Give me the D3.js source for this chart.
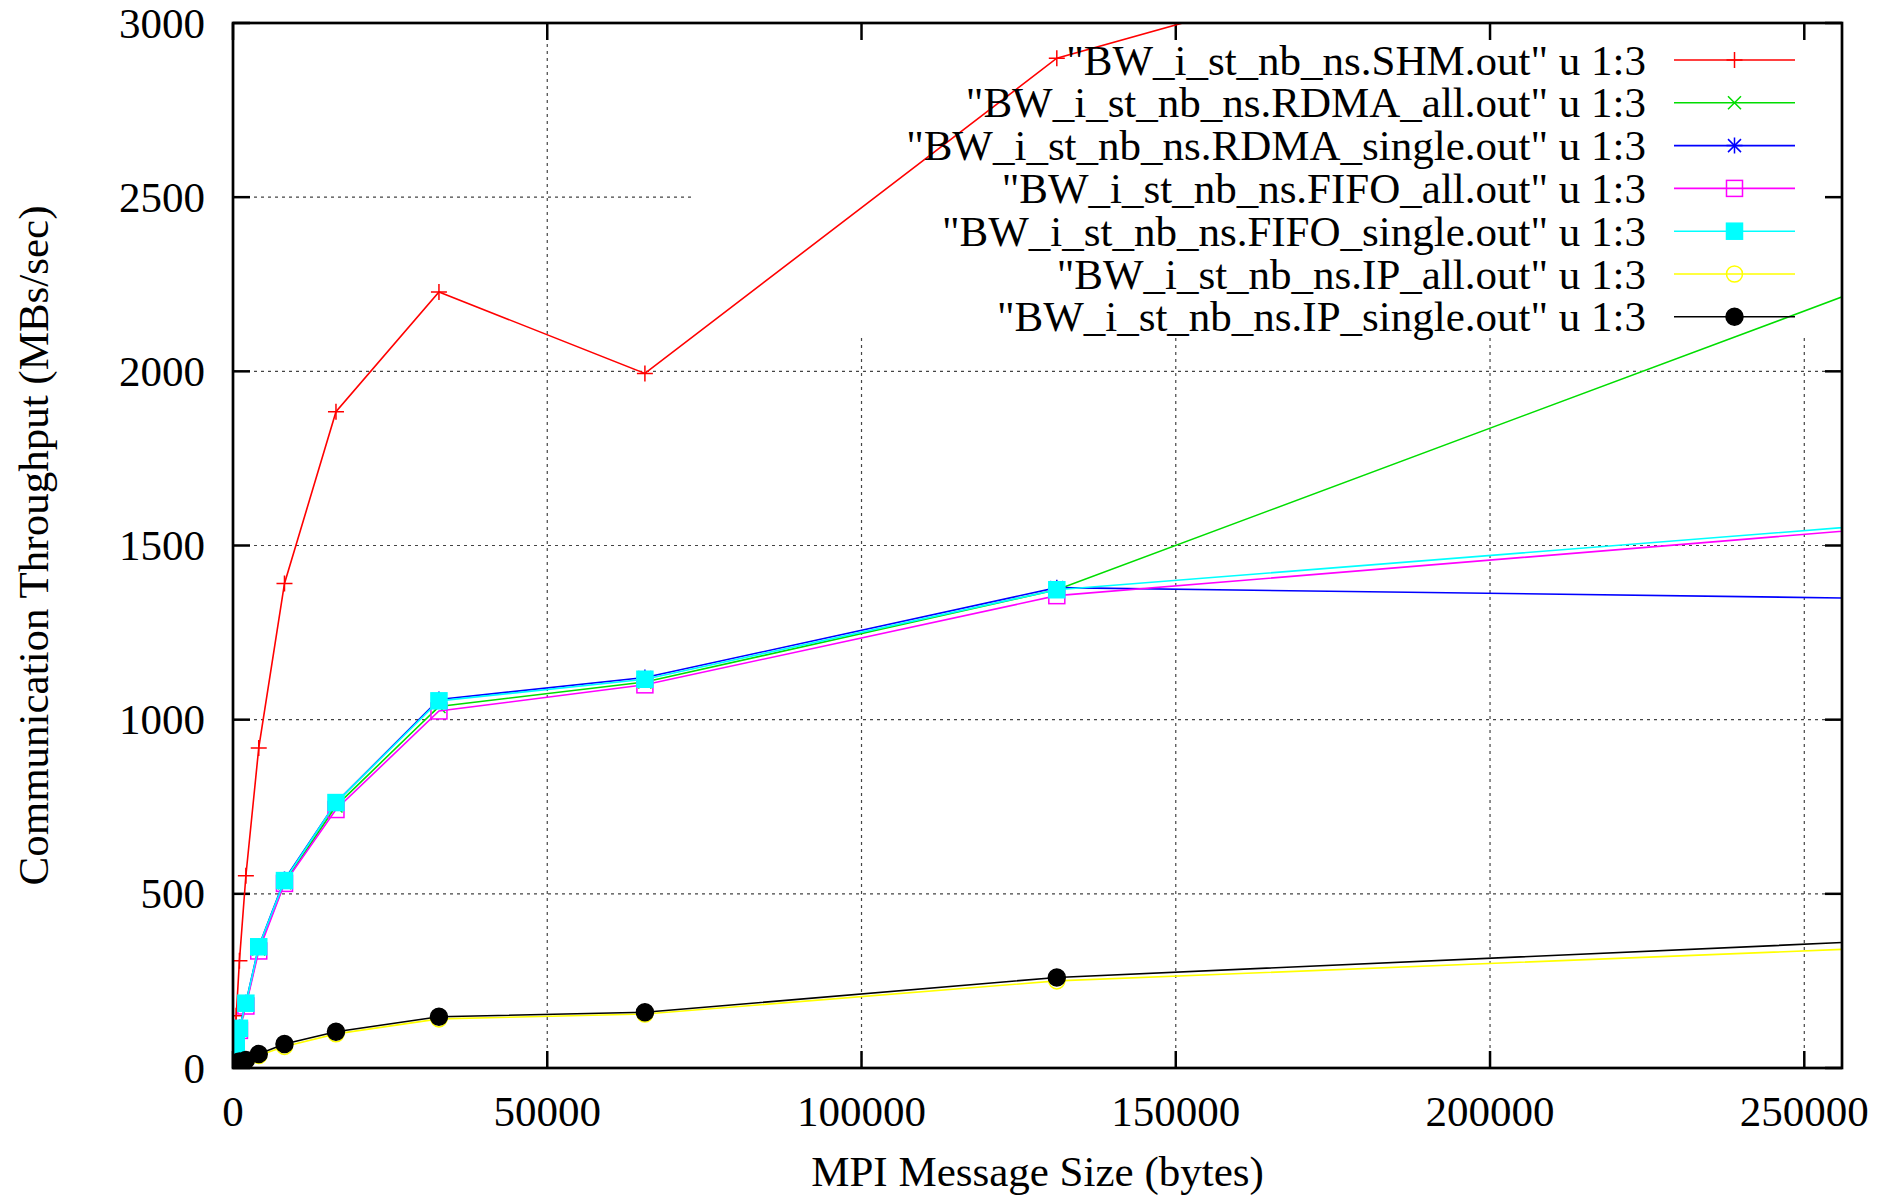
<!DOCTYPE html>
<html>
<head>
<meta charset="utf-8">
<script src="https://cdn.jsdelivr.net/npm/d3@7"></script>
<style>
  html, body { margin: 0; padding: 0; background: #fff; overflow: hidden; }
  svg { display: block; }
  text { font-family: "Liberation Serif", "Times New Roman", serif; fill: #000; }
</style>
</head>
<body>
<script>
// message sizes (bytes) and throughput (MBs/sec)
var sizes = [1, 2, 4, 8, 16, 32, 64, 128, 256, 512, 1024, 2048, 4096, 8192, 16384, 32768, 65536, 131072, 262144];

var shm         = [0.5, 1, 2, 4, 8, 16, 30, 55, 95, 150, 308, 552, 919, 1391, 1884, 2228, 1994, 2899, 3560];
var rdmaAll     = [0.2, 0.5, 1, 2, 4, 8, 15, 28, 50, 62, 110, 182, 342, 532, 752, 1038, 1108, 1373, 2255];
var rdmaSingle  = [0.2, 0.5, 1, 2, 4, 8, 16, 30, 55, 65, 116, 187, 349, 541, 762, 1058, 1121, 1379, 1348];
var fifoAll     = [0.2, 0.5, 1, 2, 4, 8, 15, 28, 50, 60, 108, 178, 336, 530, 742, 1025, 1100, 1356, 1550];
var fifoSingle  = [0.2, 0.5, 1, 2, 4, 8, 16, 30, 54, 64, 114, 186, 348, 538, 762, 1054, 1116, 1373, 1560];
var ipAll       = [0.1, 0.2, 0.4, 0.8, 1.5, 3, 5, 8, 11, 14, 18, 21, 36, 62, 98, 141, 155, 250, 345];
var ipSingle    = [0.1, 0.2, 0.4, 0.8, 1.5, 3, 5, 8, 12, 15, 19, 23, 40, 69, 104, 147, 160, 260, 365];

var seriesNames = [
  '"BW_i_st_nb_ns.SHM.out" u 1:3',
  '"BW_i_st_nb_ns.RDMA_all.out" u 1:3',
  '"BW_i_st_nb_ns.RDMA_single.out" u 1:3',
  '"BW_i_st_nb_ns.FIFO_all.out" u 1:3',
  '"BW_i_st_nb_ns.FIFO_single.out" u 1:3',
  '"BW_i_st_nb_ns.IP_all.out" u 1:3',
  '"BW_i_st_nb_ns.IP_single.out" u 1:3'
];
var seriesValues = [shm, rdmaAll, rdmaSingle, fifoAll, fifoSingle, ipAll, ipSingle];
var seriesColors = ["#ff0000", "#00dd00", "#0000ff", "#ff00ff", "#00ffff", "#ffff00", "#000000"];
var seriesMarks  = ["plus", "cross", "star", "square", "fsquare", "circle", "fcircle"];

var xTicks = [0, 50000, 100000, 150000, 200000, 250000];
var yTicks = [0, 500, 1000, 1500, 2000, 2500, 3000];

var W = 1892, H = 1199;
var margin = {top: 23, right: 50, bottom: 131, left: 233};
var x0 = margin.left, x1 = W - margin.right,
    y0 = H - margin.bottom, y1 = margin.top;

var svg = d3.select("body").append("svg")
    .attr("width", W)
    .attr("height", H);

var x = d3.scaleLinear().domain([0, 256000]).range([x0, x1]);
var y = d3.scaleLinear().domain([0, 3000]).range([y0, y1]);

// key box, grid lines are not drawn through it (gnuplot habit)
var key = {left: 692, right: x1, top: y1, bottom: 338};

svg.append("defs").append("clipPath").attr("id", "plotclip")
  .append("rect").attr("x", x0).attr("y", y1).attr("width", x1 - x0).attr("height", y0 - y1);

// grid
var grid = svg.append("g")
    .attr("stroke", "#444")
    .attr("stroke-width", 1.2)
    .attr("stroke-dasharray", "3,4");

yTicks.slice(1, -1).forEach(function(v) {
  var py = y(v);
  if (py < key.bottom) {
    grid.append("line").attr("x1", x0).attr("x2", key.left).attr("y1", py).attr("y2", py);
  } else {
    grid.append("line").attr("x1", x0).attr("x2", x1).attr("y1", py).attr("y2", py);
  }
});
xTicks.slice(1).forEach(function(v) {
  var px = x(v);
  var top = (px > key.left) ? key.bottom : y1;
  grid.append("line").attr("x1", px).attr("x2", px).attr("y1", top).attr("y2", y0);
});

// ticks (inward, mirrored)
var tl = 17;
var ticks = svg.append("g").attr("stroke", "#000").attr("stroke-width", 2.5);
yTicks.forEach(function(v) {
  ticks.append("line").attr("x1", x0).attr("x2", x0 + tl).attr("y1", y(v)).attr("y2", y(v));
  ticks.append("line").attr("x1", x1).attr("x2", x1 - tl).attr("y1", y(v)).attr("y2", y(v));
});
xTicks.forEach(function(v) {
  ticks.append("line").attr("x1", x(v)).attr("x2", x(v)).attr("y1", y0).attr("y2", y0 - tl);
  ticks.append("line").attr("x1", x(v)).attr("x2", x(v)).attr("y1", y1).attr("y2", y1 + tl);
});

// tick labels
svg.append("g").selectAll("text").data(yTicks).enter().append("text")
    .attr("x", x0 - 28)
    .attr("y", function(d) { return y(d); })
    .attr("dy", "0.34em")
    .attr("text-anchor", "end")
    .attr("font-size", 43)
    .text(function(d) { return d; });

svg.append("g").selectAll("text").data(xTicks).enter().append("text")
    .attr("x", function(d) { return x(d); })
    .attr("y", y0 + 43)
    .attr("dy", "0.34em")
    .attr("text-anchor", "middle")
    .attr("font-size", 43)
    .text(function(d) { return d; });

// axis titles
svg.append("text")
    .attr("x", (x0 + x1) / 2)
    .attr("y", 1186)
    .attr("text-anchor", "middle")
    .attr("font-size", 43)
    .text("MPI Message Size (bytes)");

svg.append("text")
    .attr("transform", "translate(33," + ((y0 + y1) / 2) + ") rotate(-90)")
    .attr("dy", "0.34em")
    .attr("text-anchor", "middle")
    .attr("font-size", 43)
    .text("Communication Throughput (MBs/sec)");

// point symbols
function drawMark(g, kind, color, px, py) {
  var s = 8;
  if (kind === "plus" || kind === "star") {
    g.append("path").attr("d", "M" + (px - s) + "," + py + "H" + (px + s) + "M" + px + "," + (py - s) + "V" + (py + s))
      .attr("stroke", color).attr("stroke-width", 1.5).attr("fill", "none");
  }
  if (kind === "cross" || kind === "star") {
    var c = 6.5;
    g.append("path").attr("d", "M" + (px - c) + "," + (py - c) + "L" + (px + c) + "," + (py + c) +
        "M" + (px - c) + "," + (py + c) + "L" + (px + c) + "," + (py - c))
      .attr("stroke", color).attr("stroke-width", 1.5).attr("fill", "none");
  }
  if (kind === "square" || kind === "fsquare") {
    g.append("rect").attr("x", px - s).attr("y", py - s).attr("width", 2 * s).attr("height", 2 * s)
      .attr("stroke", color).attr("stroke-width", 1.5)
      .attr("fill", kind === "fsquare" ? color : "none");
  }
  if (kind === "circle" || kind === "fcircle") {
    g.append("circle").attr("cx", px).attr("cy", py).attr("r", kind === "fcircle" ? 8.5 : 8)
      .attr("stroke", color).attr("stroke-width", 1.5)
      .attr("fill", kind === "fcircle" ? color : "none");
  }
}

var line = d3.line()
    .x(function(d) { return x(d[0]); })
    .y(function(d) { return y(d[1]); });

var plot = svg.append("g").attr("clip-path", "url(#plotclip)");

seriesValues.forEach(function(vals, k) {
  var pts = sizes.map(function(s, i) { return [s, vals[i]]; });
  var g = plot.append("g");
  g.append("path")
      .datum(pts)
      .attr("d", line)
      .attr("fill", "none")
      .attr("stroke", seriesColors[k])
      .attr("stroke-width", 1.6);
  pts.forEach(function(p) {
    if (p[0] <= 256000 && p[1] <= 3000) drawMark(g, seriesMarks[k], seriesColors[k], x(p[0]), y(p[1]));
  });
});

// key
var keyX = 1646, sampleL = 1674, sampleR = 1795, rowTop = 60, rowStep = 42.8;
var legend = svg.append("g");
seriesNames.forEach(function(name, k) {
  var ry = rowTop + k * rowStep;
  legend.append("text")
      .attr("x", keyX)
      .attr("y", ry)
      .attr("dy", "0.34em")
      .attr("text-anchor", "end")
      .attr("font-size", 43)
      .text(name);
  legend.append("line")
      .attr("x1", sampleL).attr("x2", sampleR).attr("y1", ry).attr("y2", ry)
      .attr("stroke", seriesColors[k]).attr("stroke-width", 1.6);
  drawMark(legend, seriesMarks[k], seriesColors[k], (sampleL + sampleR) / 2, ry);
});

// border
svg.append("rect")
    .attr("x", x0).attr("y", y1)
    .attr("width", x1 - x0).attr("height", y0 - y1)
    .attr("fill", "none")
    .attr("stroke", "#000")
    .attr("stroke-width", 2.7);
</script>
</body>
</html>
